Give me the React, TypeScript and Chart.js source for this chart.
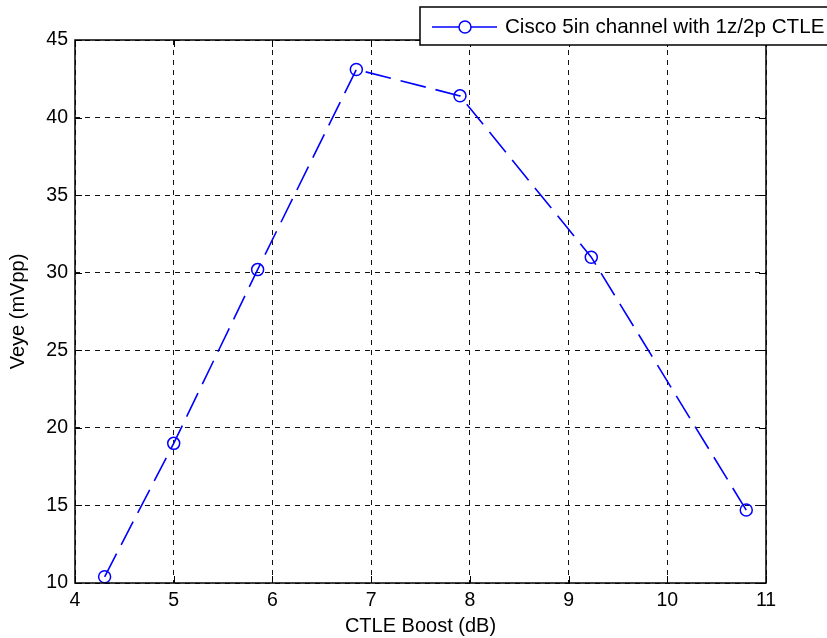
import React, { useEffect, useRef } from "react";
import { Chart, registerables } from "chart.js";

Chart.register(...registerables);

const seriesLabel = "Cisco 5in channel with 1z/2p CTLE";
const boost = [4.3, 5.0, 5.85, 6.85, 7.9, 9.23, 10.8];
const veye = [10.4, 19.0, 30.2, 43.1, 41.4, 31.0, 14.7];
const xTicks = [4, 5, 6, 7, 8, 9, 10, 11];
const yTicks = [10, 15, 20, 25, 30, 35, 40, 45];
const xTitle = "CTLE Boost (dB)";
const yTitle = "Veye (mVpp)";

const FONT = "'Liberation Sans', Arial, sans-serif";
const BLUE = "#0000ff";

const framePlugin = {
  id: "frame",
  afterDraw(chart: any) {
    const { ctx, chartArea: a } = chart;
    const xs = chart.scales.x;
    const ys = chart.scales.y;
    ctx.save();
    ctx.strokeStyle = "#000";
    ctx.lineWidth = 1;
    ctx.setLineDash([]);
    const tl = 7;
    xTicks.forEach((v) => {
      const px = Math.round(xs.getPixelForValue(v)) + 0.5;
      ctx.beginPath();
      ctx.moveTo(px, a.bottom);
      ctx.lineTo(px, a.bottom - tl);
      ctx.moveTo(px, a.top);
      ctx.lineTo(px, a.top + tl);
      ctx.stroke();
    });
    yTicks.forEach((v) => {
      const py = Math.round(ys.getPixelForValue(v)) + 0.5;
      ctx.beginPath();
      ctx.moveTo(a.left, py);
      ctx.lineTo(a.left + tl, py);
      ctx.moveTo(a.right, py);
      ctx.lineTo(a.right - tl, py);
      ctx.stroke();
    });
    ctx.lineWidth = 1.5;
    ctx.strokeRect(a.left, a.top, a.right - a.left, a.bottom - a.top);

    // legend
    const lx = 420, ly = 7, lw = 420, lh = 38;
    ctx.fillStyle = "#fff";
    ctx.fillRect(lx, ly, lw, lh);
    ctx.strokeStyle = "#000";
    ctx.lineWidth = 1.5;
    ctx.strokeRect(lx, ly, lw, lh);
    const cy = ly + lh / 2 + 1;
    ctx.strokeStyle = BLUE;
    ctx.lineWidth = 1.5;
    ctx.beginPath();
    ctx.moveTo(432, cy);
    ctx.lineTo(497, cy);
    ctx.stroke();
    ctx.beginPath();
    ctx.arc(465, cy, 6, 0, Math.PI * 2);
    ctx.fillStyle = "#fff";
    ctx.fill();
    ctx.stroke();
    ctx.fillStyle = "#000";
    ctx.font = `20.6px ${FONT}`;
    ctx.textAlign = "left";
    ctx.textBaseline = "middle";
    ctx.fillText(seriesLabel, 505, cy);
    ctx.restore();
  },
};

export default function App() {
  const ref = useRef<HTMLCanvasElement | null>(null);
  useEffect(() => {
    if (!ref.current) return;
    const chart = new Chart(ref.current, {
      type: "line",
      data: {
        datasets: [
          {
            label: seriesLabel,
            data: boost.map((x, i) => ({ x, y: veye[i] })),
            borderColor: BLUE,
            borderWidth: 1.6,
            borderDash: [26, 10],
            backgroundColor: "rgba(0,0,0,0)",
            pointRadius: 6,
            pointBorderWidth: 1.5,
            pointBorderColor: BLUE,
            pointBackgroundColor: "rgba(0,0,0,0)",
            tension: 0,
            fill: false,
            clip: false as any,
          },
        ],
      },
      options: {
        responsive: false,
        animation: false,
        layout: { padding: { left: 0, top: 40, right: 61, bottom: 0 } },
        plugins: { legend: { display: false }, tooltip: { enabled: false } },
        scales: {
          x: {
            type: "linear",
            min: 4,
            max: 11,
            afterBuildTicks: (s: any) => {
              s.ticks = xTicks.map((v) => ({ value: v }));
            },
            afterFit: (s: any) => {
              s.height = 55;
            },
            grid: { color: "#111", lineWidth: 1, drawTicks: false },
            border: { display: false, dash: [5, 5] },
            ticks: {
              color: "#000",
              font: { family: FONT, size: 19.5 },
              padding: 6,
              maxRotation: 0,
              autoSkip: false,
            },
            title: {
              display: true,
              text: xTitle,
              color: "#000",
              font: { family: FONT, size: 20 },
              padding: { top: 0, bottom: 0 },
            },
          },
          y: {
            type: "linear",
            min: 10,
            max: 45,
            afterBuildTicks: (s: any) => {
              s.ticks = yTicks.map((v) => ({ value: v }));
            },
            afterFit: (s: any) => {
              s.width = 75;
            },
            grid: { color: "#111", lineWidth: 1, drawTicks: false },
            border: { display: false, dash: [5, 5] },
            ticks: {
              color: "#000",
              font: { family: FONT, size: 19.5 },
              padding: 7,
              autoSkip: false,
            },
            title: {
              display: true,
              text: yTitle,
              color: "#000",
              font: { family: FONT, size: 20 },
              padding: { top: 6, bottom: 0 },
            },
          },
        },
      },
      plugins: [framePlugin],
    });
    return () => chart.destroy();
  }, []);
  return (
    <div style={{ position: "absolute", left: 0, top: 0, width: 827, height: 638, background: "#fff" }}>
      <canvas ref={ref} width={827} height={638} style={{ display: "block" }} />
    </div>
  );
}
